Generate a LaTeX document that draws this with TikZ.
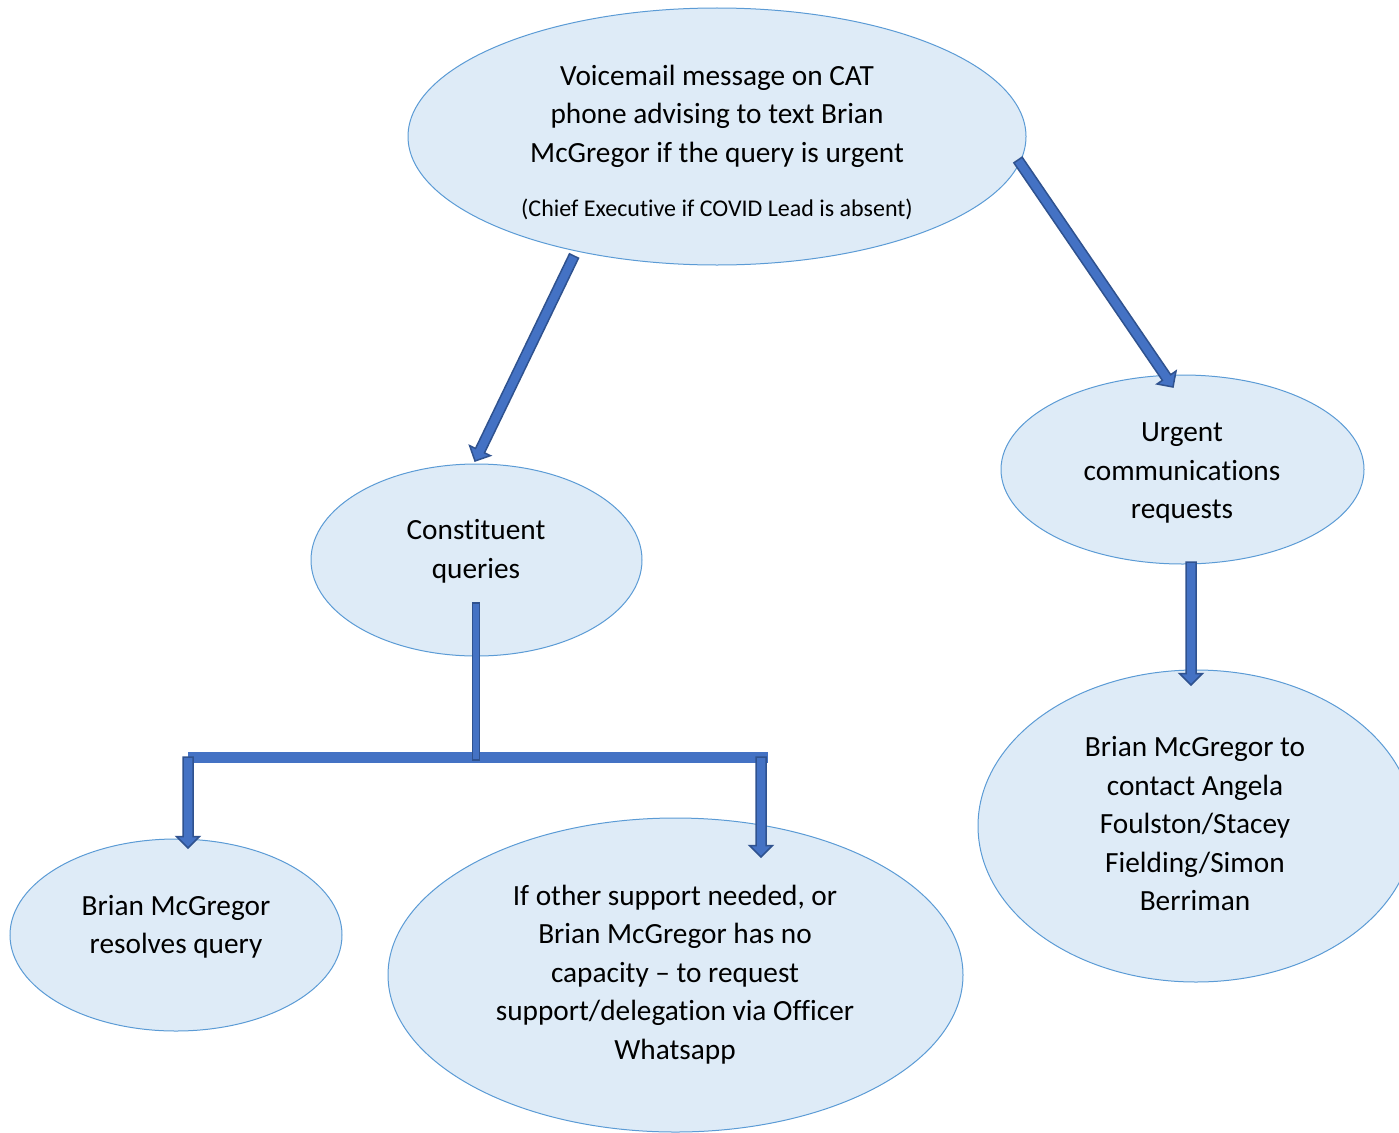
\documentclass[tikz,border=0pt]{standalone}
\usepackage{fontspec}
\setmainfont[Ligatures={NoCommon}]{Carlito}
\usetikzlibrary{shapes.geometric,calc}
\definecolor{ellfill}{HTML}{DEEBF7}
\definecolor{elldraw}{HTML}{5B9BD5}
\definecolor{arrfill}{HTML}{4472C4}
\definecolor{arrdraw}{HTML}{2F528F}
\newcommand\baW{5pt}
\newcommand\baH{11.5pt}
\newcommand\baL{11.5pt}
\newcommand\blockarrow[2]{%
  \coordinate (ba-b) at ($(#2)!\baL!(#1)$);
  \filldraw[barrow] ($(#1)!\baW!90:(#2)$) -- ($(ba-b)!\baW!90:(#2)$) -- ($(ba-b)!\baH!90:(#2)$) -- (#2) -- ($(ba-b)!\baH!-90:(#2)$) -- ($(ba-b)!\baW!-90:(#2)$) -- ($(#1)!\baW!-90:(#2)$) -- cycle;}
\tikzset{
  ell/.style={ellipse, draw=elldraw, fill=ellfill, line width=1pt, inner sep=0pt},
  txt/.style={align=center, font=\fontsize{29.3}{38.5}\selectfont, text=black, inner sep=0pt},
  smalltxt/.style={align=center, font=\fontsize{24}{29}\selectfont, text=black, inner sep=0pt},
  barrow/.style={fill=arrfill, draw=arrdraw, line width=1.5pt, line join=miter},
}
\begin{document}
\begin{tikzpicture}[x=1pt,y=-1pt]
\useasboundingbox (0,0) rectangle (1399,1132);
% ellipses
\node[ell, minimum width=618, minimum height=257] (top) at (717,136.5) {};
\node[ell, minimum width=331, minimum height=192] (const) at (476.5,560) {};
\node[ell, minimum width=363, minimum height=189] (urgent) at (1182.5,469.5) {};
\node[ell, minimum width=332, minimum height=192] (resolves) at (176,935) {};
\node[ell, minimum width=575, minimum height=314] (other) at (675.5,975) {};
\node[ell, minimum width=436, minimum height=312] (contact) at (1196,826) {};
% texts
\node[txt] (toptxt) at (717,116) {Voicemail message on CAT\\phone advising to text Brian\\McGregor if the query is urgent};
\node[smalltxt] (topsmall) at (717,209) {(Chief Executive if COVID Lead is absent)};
\node[txt] (consttxt) at (476,551.5) {Constituent\\queries};
\node[txt] (urgenttxt) at (1182,473) {Urgent\\communications\\requests};
\node[txt] (resolvestxt) at (176,927) {Brian McGregor\\resolves query};
\node[txt] (othertxt) at (675,974.5) {If other support needed, or\\Brian McGregor has no\\capacity – to request\\support/delegation via Officer\\Whatsapp};
\node[txt] (contacttxt) at (1195,824) {Brian McGregor to\\contact Angela\\Foulston/Stacey\\Fielding/Simon\\Berriman};
% connector points
\coordinate (a1s) at (1018,160);
\coordinate (a1e) at (1173,387);
\coordinate (a2s) at (574,256);
\coordinate (a2e) at (475,461);
\coordinate (a3s) at (1191,562);
\coordinate (a3e) at (1191,685);
\coordinate (bl) at (188,757);
\coordinate (br) at (761,757);
\coordinate (a4e) at (188,848);
\coordinate (a5e) at (761,857);
% horizontal bar and stem
\fill[arrfill] (188,752) rectangle (768,763);
\filldraw[barrow, line width=1.2pt] (472.5,603) rectangle (479.5,760);
% arrows
\blockarrow{a1s}{a1e}
\blockarrow{a2s}{a2e}
\blockarrow{a3s}{a3e}
\blockarrow{bl}{a4e}
\blockarrow{br}{a5e}
\end{tikzpicture}
\end{document}
